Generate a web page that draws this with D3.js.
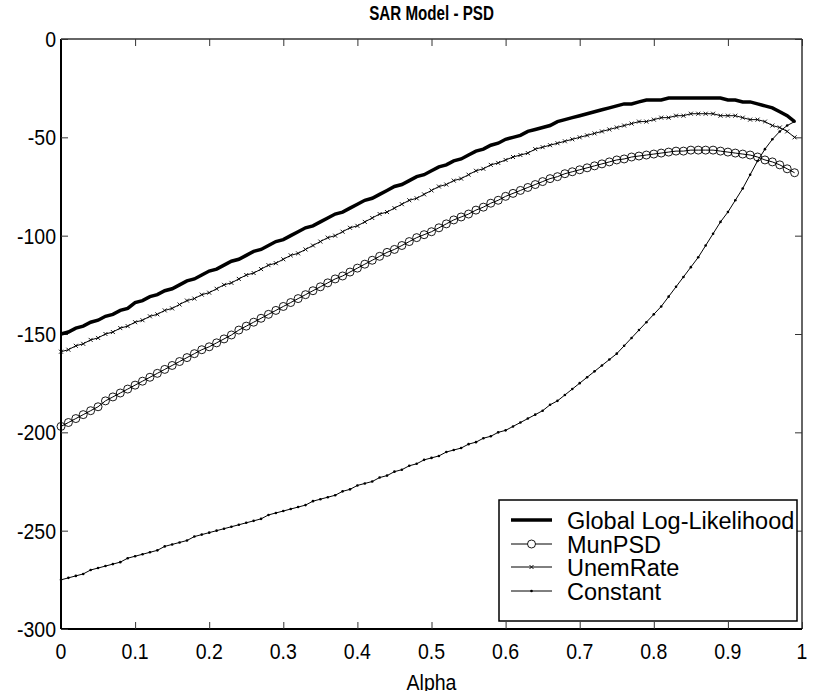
<!DOCTYPE html>
<html><head><meta charset="utf-8">
<script src="https://cdn.jsdelivr.net/npm/d3@7"></script>
<style>
html,body{margin:0;padding:0;background:#fff;}
svg{display:block;}
text{font-family:"Liberation Sans",Arial,Helvetica,sans-serif;fill:#000;}
</style></head>
<body>
<script>
const alpha = d3.range(100).map(i => i / 100);
const xTicks = [0, 0.1, 0.2, 0.3, 0.4, 0.5, 0.6, 0.7, 0.8, 0.9, 1];
const xTickLabels = ["0", "0.1", "0.2", "0.3", "0.4", "0.5", "0.6", "0.7", "0.8", "0.9", "1"];
const yTicks = [-300, -250, -200, -150, -100, -50, 0];
const yTickLabels = ["-300", "-250", "-200", "-150", "-100", "-50", "0"];
const seriesNames = ["Global Log-Likelihood", "MunPSD", "UnemRate", "Constant"];

const globalLL = [
-150,-149,-147,-146,-144,-143,-141,-140,-138,-137,
-134,-133,-131,-130,-128,-127,-125,-123,-122,-120,
-118,-117,-115,-113,-112,-110,-108,-107,-105,-103,
-102,-100,-98,-96,-95,-93,-91,-89,-88,-86,
-84,-82,-81,-79,-77,-75,-74,-72,-70,-69,
-67,-65,-64,-62,-61,-59,-57,-56,-54,-53,
-51,-50,-49,-47,-46,-45,-44,-42,-41,-40,
-39,-38,-37,-36,-35,-34,-33,-33,-32,-31,
-31,-31,-30,-30,-30,-30,-30,-30,-30,-30,
-31,-31,-32,-32,-33,-34,-35,-37,-39,-42];

const munPSD = [
-197,-195,-193,-191,-189,-187,-184,-182,-180,-178,
-176,-174,-172,-170,-168,-166,-164,-162,-160,-158,
-156.5,-154.5,-152.5,-150.5,-148,-146,-144,-142,-140,-138,
-136,-134,-132,-130,-128,-126,-124,-122,-120.5,-118.5,
-116.5,-114.5,-112.5,-110.5,-108.5,-107,-105,-103,-101,-99.5,
-98,-96,-94,-92,-90.5,-89,-87,-85.5,-83.5,-82,
-80,-78.5,-77,-75.5,-74,-72.5,-71,-70,-68.5,-67.5,
-66.5,-65.5,-64.5,-63.5,-62.5,-61.5,-61,-60,-59.5,-59,
-58.5,-58,-57.5,-57,-57,-56.5,-56.5,-56.5,-56.5,-57,
-57.5,-58,-58.5,-59,-60,-61.5,-62.5,-64,-66,-68];

const unemRate = [
-159,-158,-156,-155,-153,-152,-150,-149,-147,-146,
-144,-143,-141,-140,-138,-137,-135,-133,-132,-130,
-129,-127,-125,-124,-122,-120,-119,-117,-115,-114,
-112,-110,-109,-107,-105,-103,-101,-100,-98,-96,
-95,-93,-91,-89,-88,-86,-84,-82,-81,-79,
-77,-75,-74,-72,-71,-69,-67,-66,-64,-63,
-61.5,-60,-59,-58,-56,-55,-54,-53,-52,-51,
-50,-49,-48,-47,-46,-45,-44,-43,-42,-42,
-41,-40,-40,-39,-39,-38,-38,-38,-38,-39,
-39,-39,-40,-41,-41,-42,-44,-45,-47,-50];

const constant = [
-275,-274,-273,-272,-270,-269,-268,-267,-266,-264,
-263,-262,-261,-260,-258,-257,-256,-255,-253,-252,
-251,-250,-249,-248,-247,-246,-245,-244,-242,-241,
-240,-239,-238,-237,-235,-234,-233,-232,-230,-229,
-227,-226,-225,-223,-222,-220,-219,-217,-216,-214,
-213,-212,-210,-209,-208,-206,-205,-203,-202,-200,
-199,-197,-195,-193,-191,-189,-186,-184,-181,-178,
-175,-172,-169,-166,-163,-160,-156,-152,-148,-144,
-140,-136,-131,-126,-121,-116,-111,-105,-99,-93,
-88,-82,-76,-69,-62,-56,-51,-47,-44,-42];

const W = 814, H = 691;
const L = 61, R = 802, T = 39, B = 629;
const svg = d3.select("body").append("svg").attr("width", W).attr("height", H);
const x = d3.scaleLinear().domain([0, 1]).range([L, R]);
const y = d3.scaleLinear().domain([-300, 0]).range([B, T]);

// stretched text helper (reference font is drawn tall)
function tallText(g, tx, ty, str, size, sx, sy, anchor, weight) {
  return g.append("text")
    .attr("transform", `translate(${tx},${ty}) scale(${sx},${sy})`)
    .attr("text-anchor", anchor)
    .style("font-size", size + "px")
    .style("font-weight", weight || "normal")
    .text(str);
}

// frame with inward ticks
const tickLen = 7;
const axB = d3.axisBottom(x).tickValues(xTicks).tickSize(-tickLen).tickFormat("");
const axT = d3.axisTop(x).tickValues(xTicks).tickSize(-tickLen).tickFormat("");
const axL = d3.axisLeft(y).tickValues(yTicks).tickSize(-tickLen).tickFormat("");
const axRt = d3.axisRight(y).tickValues(yTicks).tickSize(-tickLen).tickFormat("");

function styleAxis(g, col, w) {
  g.select(".domain").attr("stroke", col).attr("stroke-width", w);
  g.selectAll(".tick line").attr("stroke", "#333").attr("stroke-width", 1);
}
svg.append("g").attr("transform", `translate(0,${T})`).call(axT).call(g => styleAxis(g, "#333", 1.5)).select(".domain").attr("d", `M${L},0H${R}`);
svg.append("g").attr("transform", `translate(${R},0)`).call(axRt).call(g => styleAxis(g, "#333", 1.5)).select(".domain").attr("d", `M0,${T}V${B}`);
const gB = svg.append("g").attr("transform", `translate(0,${B})`).call(axB).call(g => styleAxis(g, "#000", 2));
gB.select(".domain").attr("d", `M${L},0H${R}`);
const gL = svg.append("g").attr("transform", `translate(${L},0)`).call(axL).call(g => styleAxis(g, "#000", 2));
gL.select(".domain").attr("d", `M0,${T}V${B}`);

// tick labels
const labels = svg.append("g");
xTicks.forEach((v, i) => tallText(labels, x(v), 659, xTickLabels[i], 19.5, 1, 1.16, "middle"));
yTicks.forEach((v, i) => tallText(labels, 56, y(v) + 8, yTickLabels[i], 19.5, 1, 1.16, "end"));

// title and axis label
tallText(svg, (L + R) / 2, 20, "SAR Model - PSD", 16.5, 0.92, 1.25, "middle", "bold");
tallText(svg, (L + R) / 2, 690, "Alpha", 19.5, 1, 1.16, "middle");

const line = d3.line().x((d, i) => x(alpha[i])).y(d => y(d));

// lines
svg.append("path").datum(constant).attr("d", line).attr("fill", "none").attr("stroke", "#000").attr("stroke-width", 1);
svg.append("path").datum(unemRate).attr("d", line).attr("fill", "none").attr("stroke", "#000").attr("stroke-width", 1);
svg.append("path").datum(munPSD).attr("d", line).attr("fill", "none").attr("stroke", "#000").attr("stroke-width", 1);
svg.append("path").datum(globalLL).attr("d", line).attr("fill", "none").attr("stroke", "#000").attr("stroke-width", 3.5);

// markers
svg.append("g").selectAll("circle").data(munPSD).join("circle")
  .attr("cx", (d, i) => x(alpha[i])).attr("cy", d => y(d)).attr("r", 4)
  .attr("fill", "none").attr("stroke", "#000").attr("stroke-width", 0.9);
const xs = 2;
svg.append("g").selectAll("path").data(unemRate).join("path")
  .attr("d", (d, i) => { const cx = x(alpha[i]), cy = y(d); return `M${cx-xs},${cy-xs}L${cx+xs},${cy+xs}M${cx-xs},${cy+xs}L${cx+xs},${cy-xs}`; })
  .attr("stroke", "#000").attr("stroke-width", 0.9);
svg.append("g").selectAll("circle").data(constant).join("circle")
  .attr("cx", (d, i) => x(alpha[i])).attr("cy", d => y(d)).attr("r", 1.3).attr("fill", "#000");

// legend
const lg = svg.append("g");
const lgX = 499, lgY = 500, lgW = 298, lgH = 121;
lg.append("rect").attr("x", lgX).attr("y", lgY).attr("width", lgW).attr("height", lgH)
  .attr("fill", "#fff").attr("stroke", "#000").attr("stroke-width", 1.5);
const rowY = [520, 544, 567, 591];
seriesNames.forEach((name, i) => {
  const ry = rowY[i];
  lg.append("line").attr("x1", 511).attr("x2", 552).attr("y1", ry).attr("y2", ry)
    .attr("stroke", "#000").attr("stroke-width", i === 0 ? 3.5 : 1);
  if (i === 1) lg.append("circle").attr("cx", 531.5).attr("cy", ry).attr("r", 4).attr("fill", "#fff").attr("stroke", "#000").attr("stroke-width", 0.9);
  if (i === 2) lg.append("path").attr("d", `M${531.5-xs},${ry-xs}L${531.5+xs},${ry+xs}M${531.5-xs},${ry+xs}L${531.5+xs},${ry-xs}`).attr("stroke", "#000").attr("stroke-width", 0.9);
  if (i === 3) lg.append("circle").attr("cx", 531.5).attr("cy", ry).attr("r", 1.3).attr("fill", "#000");
  lg.append("text").attr("x", 567).attr("y", ry + 8.5).style("font-size", "23.5px").text(name);
});
</script>
</body></html>
